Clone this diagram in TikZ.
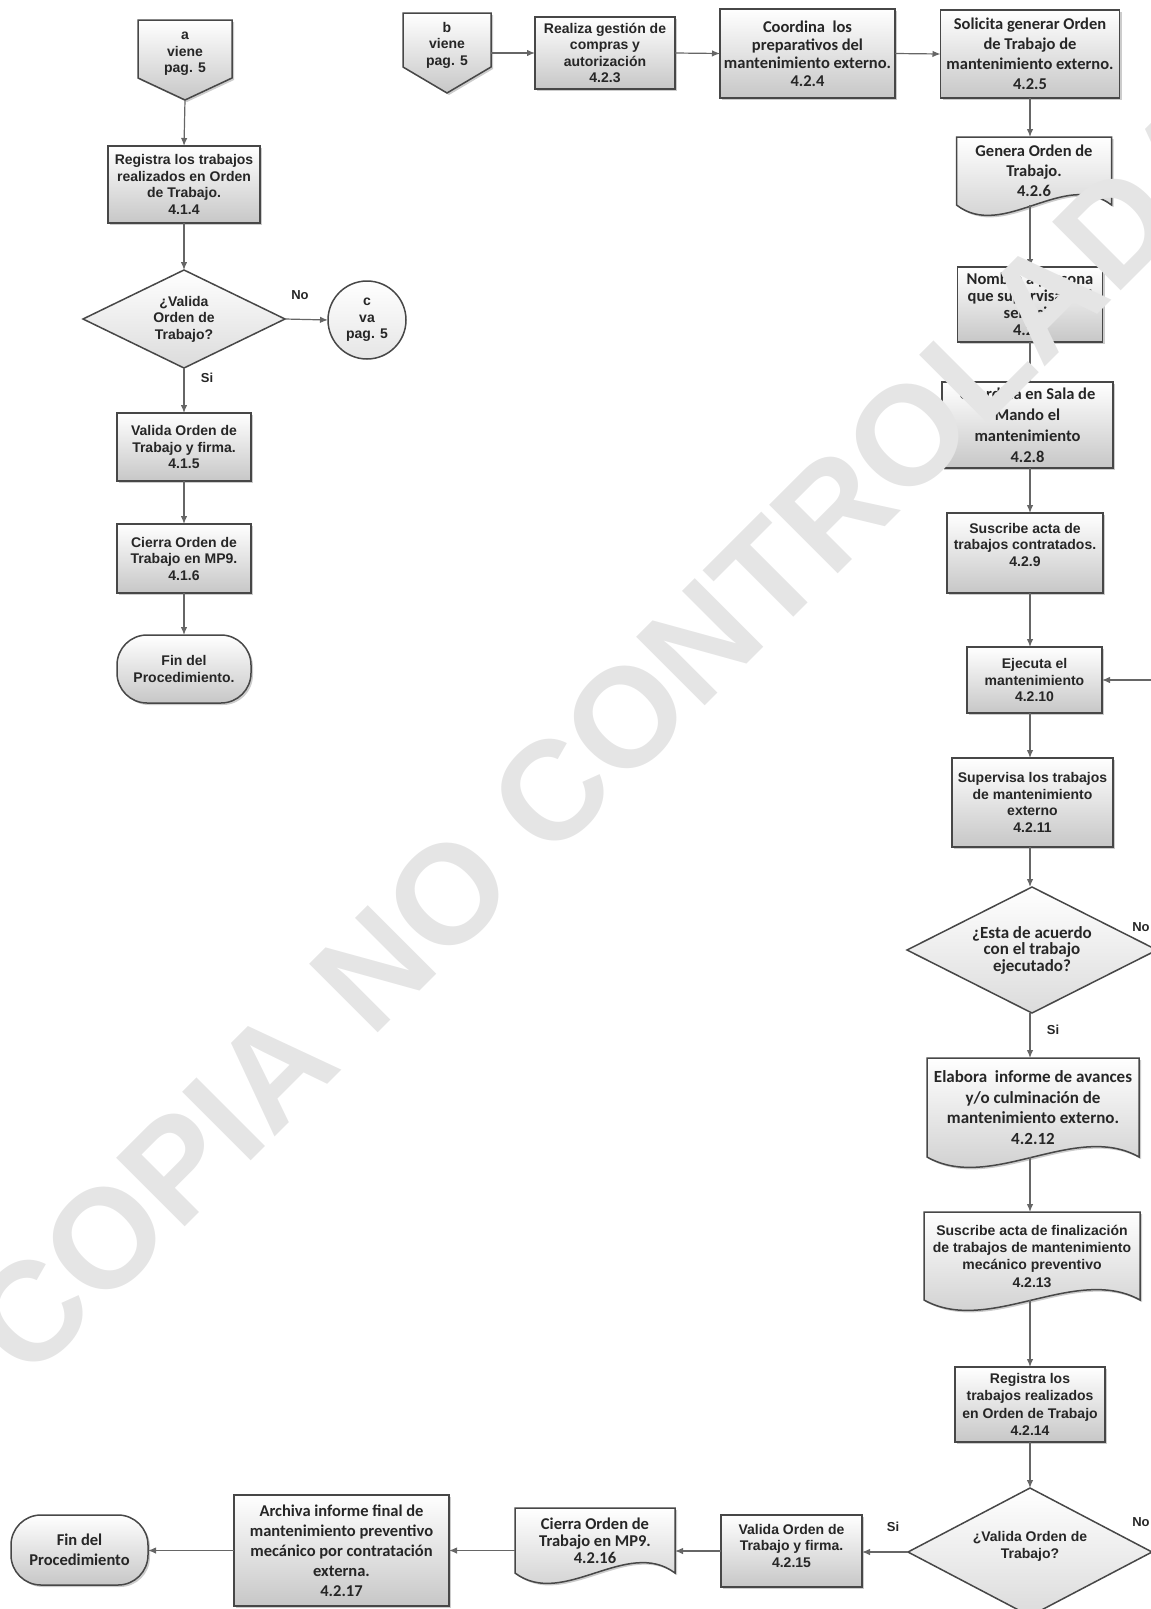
\documentclass[tikz,border=0pt]{standalone}
\usepackage{fontspec}
\setmainfont{Liberation Sans}
\newfontfamily\calfont{Carlito}
\usetikzlibrary{shapes.geometric,arrows.meta,shadows,backgrounds,calc}
\newcommand\arbf{\bfseries\fontsize{14}{16.5}\selectfont}
\newcommand\arbft{\bfseries\fontsize{14}{17.3}\selectfont}
\newcommand\cabf{\calfont\bfseries\fontsize{16.5}{20}\selectfont}
\newcommand\wmfont{\bfseries\fontsize{141}{141}\selectfont}
\newcommand\docpath[1]{\path[shapepath] (#1.north west) -- (#1.north east) -- (#1.south east)
  .. controls ($(#1.south east)!0.3!(#1.south west)+(0,-36)$) and ($(#1.south east)!0.7!(#1.south west)+(0,36)$) .. (#1.south west) -- cycle;}
\begin{document}
\begin{tikzpicture}[x=1pt,y=-1pt,
  base/.style={align=center, inner sep=1pt, outer sep=0pt, text=black!85},
  sz/.style 2 args={minimum width=#1pt, minimum height=#2pt},
  shadeit/.style={top color=white, bottom color=black!22},
  shad/.style={drop shadow={shadow xshift=2pt, shadow yshift=-2pt, fill=black!50, opacity=0.4}},
  proc/.style={base, draw=black!72, line width=1.5pt, shadeit, shad},
  term/.style={proc, rounded corners=30pt},
  dec/.style={base, diamond, aspect=2, inner sep=0pt, draw=black!72, line width=1.5pt, top color=white, bottom color=black!14},
  conn/.style={base, circle, inner sep=0pt, draw=black!72, line width=1.5pt, top color=white, bottom color=black!10},
  ghost/.style={base},
  shapepath/.style={draw=black!72, line width=1.5pt, shadeit, shad},
  arr/.style={draw=black!60, line width=1.2pt, -{Latex[length=8pt,width=6.5pt]}},
  lab/.style={font=\bfseries\fontsize{13}{15}\selectfont, text=black!85},
]
\useasboundingbox (0,0) rectangle (1151,1609);

% ---------- left column ----------
\node[ghost, font=\arbf] (a) at (185,54) {a\\viene\\pag. 5};
\coordinate (atip) at (185,100);
\node[proc, sz={152}{77}, font=\arbf] (r414) at (184,184.5) {Registra los trabajos\\realizados en Orden\\de Trabajo.\\4.1.4};
\node[dec, sz={202}{98}, font=\arbf] (d1) at (184,319) {¿Valida\\Orden de\\Trabajo?};
\node[conn, minimum size=78pt, font=\arbf] (c) at (367,320) {c\\va\\pag. 5};
\node[proc, sz={134}{68}, font=\arbf] (v415) at (184,447) {Valida Orden de\\Trabajo y firma.\\4.1.5};
\node[proc, sz={134}{69}, font=\arbf] (c416) at (184,558.5) {Cierra Orden de\\Trabajo en MP9.\\4.1.6};
\node[term, sz={134}{68}, font=\arbf] (fin1) at (184,669) {Fin del\\Procedimiento.};

% ---------- top row ----------
\node[ghost, font=\arbf] (b) at (447,45) {b\\viene\\pag. 5};
\coordinate (beast) at (491,53);
\node[proc, sz={140}{72}, font=\arbf] (n423) at (605,53) {Realiza gestión de\\compras y\\autorización\\4.2.3};
\node[proc, sz={175}{89}, font=\calfont\bfseries\fontsize{16.5}{18}\selectfont] (n424) at (807.5,53.5) {Coordina \ los\\preparativos del\\mantenimiento externo.\\4.2.4};
\node[proc, sz={179}{88}, font=\cabf] (n425) at (1030,54) {Solicita generar Orden\\de Trabajo de\\mantenimiento externo.\\4.2.5};

% ---------- right column ----------
\node[ghost, sz={155}{68}, font=\cabf] (n426) at (1034,171) {Genera Orden de\\Trabajo.\\4.2.6};
\node[proc, sz={145}{75}, font=\calfont\bfseries\fontsize{16.5}{17}\selectfont] (n427) at (1030,304.5) {Nombra a persona\\que supervisará el\\servicio\\4.2.7};
\node[proc, sz={171}{86}, font=\calfont\bfseries\fontsize{16.5}{21}\selectfont] (n428) at (1027.5,425) {Coordina en Sala de\\Mando el\\mantenimiento\\4.2.8};
\node[proc, sz={156}{80}, font=\arbf] (n429) at (1025,553) {Suscribe acta de\\trabajos contratados.\\4.2.9\\\mbox{}};
\node[proc, sz={135}{66}, font=\arbf] (n4210) at (1034.5,680) {Ejecuta el\\mantenimiento\\4.2.10};
\node[proc, sz={161}{89}, font=\arbf] (n4211) at (1032.5,802.5) {Supervisa los trabajos\\de mantenimiento\\externo\\4.2.11};
\node[dec, sz={250}{126}, font=\calfont\bfseries\fontsize{17}{16.5}\selectfont] (d2) at (1032,950) {¿Esta de acuerdo\\con el trabajo\\ejecutado?};
\node[ghost, sz={212}{99}, font=\calfont\bfseries\fontsize{17}{20.5}\selectfont] (n4212) at (1033,1107.5) {Elabora \ informe de avances\\y/o culminación de\\mantenimiento externo.\\4.2.12};
\node[ghost, sz={216}{88}, font=\arbft] (n4213) at (1032,1256) {Suscribe acta de finalización\\de trabajos de mantenimiento\\mecánico preventivo\\4.2.13};
\node[proc, sz={150}{75}, font=\arbft] (n4214) at (1030,1404.5) {Registra los\\trabajos realizados\\en Orden de Trabajo\\4.2.14};
\node[dec, sz={244}{128}, font=\arbf] (d3) at (1030,1552) {¿Valida Orden de\\Trabajo?\\[-2pt]\mbox{}};

% ---------- bottom row ----------
\node[proc, sz={141}{72}, font=\arbf] (n4215) at (791.5,1551) {Valida Orden de\\Trabajo y firma.\\4.2.15\\[-6pt]\mbox{}};
\node[ghost, sz={160}{65}, font=\calfont\bfseries\fontsize{16.5}{17}\selectfont] (n4216) at (595,1540.5) {Cierra Orden de\\Trabajo en MP9.\\4.2.16};
\node[proc, sz={215}{111}, font=\cabf] (n4217) at (341.5,1550.5) {Archiva informe final de\\mantenimiento preventivo\\mecánico por contratación\\externa.\\4.2.17};
\node[term, sz={137}{70}, font=\cabf] (fin2) at (79.5,1550) {Fin del\\Procedimiento};

% ---------- shapes drawn behind text ----------
\begin{pgfonlayer}{background}
\path[shapepath] (138,20) -- (232,20) -- (232,78) -- (atip) -- (138,78) -- cycle;
\path[shapepath] (403,13) -- (491,13) -- (491,67) -- (447,93) -- (403,67) -- cycle;
\docpath{n426}
\docpath{n4212}
\docpath{n4213}
\docpath{n4216}
\end{pgfonlayer}

% ---------- connectors ----------
\draw[arr] (atip) -- (r414.north);
\draw[arr] (r414.south) -- (d1.north);
\draw[arr] (d1.east) -- (c.west);
\draw[arr] (d1.south) -- (v415.north);
\draw[arr] (v415.south) -- (c416.north);
\draw[arr] (c416.south) -- (fin1.north);

\draw[arr] (beast) -- (n423.west);
\draw[arr] (n423.east) -- (n424.west);
\draw[arr] (n424.east) -- (n425.west);

\draw[arr] (n425.south) -- (n425.south |- n426.north);
\draw[arr] (n426.south -| n425.south) -- (n425.south |- n427.north);
\draw[arr] (n425.south |- n427.south) -- (n425.south |- n428.north);
\draw[arr] (n425.south |- n428.south) -- (n425.south |- n429.north);
\draw[arr] (n425.south |- n429.south) -- (n425.south |- n4210.north);
\draw[arr] (n425.south |- n4210.south) -- (n425.south |- n4211.north);
\draw[arr] (n425.south |- n4211.south) -- (n425.south |- d2.north);
\draw[arr] (n425.south |- d2.south) -- (n425.south |- n4212.north);
\draw[arr] (n425.south |- n4212.south) -- (n425.south |- n4213.north);
\draw[arr] (n425.south |- n4213.south) -- (n425.south |- n4214.north);
\draw[arr] (n425.south |- n4214.south) -- (n425.south |- d3.north);
\draw[arr] (d2.east) -- ++(6,0) |- (n4210.east);

\draw[arr] (d3.west) -- (d3.west -| n4215.east);
\draw[arr] (n4215.west) -- (n4215.west -| n4216.east);
\draw[arr] (n4216.west |- n4217.east) -- (n4217.east);
\draw[arr] (n4217.west) -- (n4217.west -| fin2.east);

% ---------- branch labels ----------
\node[lab] (l1no) at (300,295) {No};
\node[lab] (l1si) at (207,378) {Si};
\node[lab] (l2no) at (1141,927) {No};
\node[lab] (l2si) at (1053,1030) {Si};
\node[lab] (l3si) at (893,1527) {Si};
\node[lab] (l3no) at (1141,1522) {No};

% ---------- watermark ----------
\node[rotate=45, text=black!10, font=\wmfont, inner sep=0pt] (wm) at (609,734) {COPIA NO CONTROLADA};
\end{tikzpicture}
\end{document}
